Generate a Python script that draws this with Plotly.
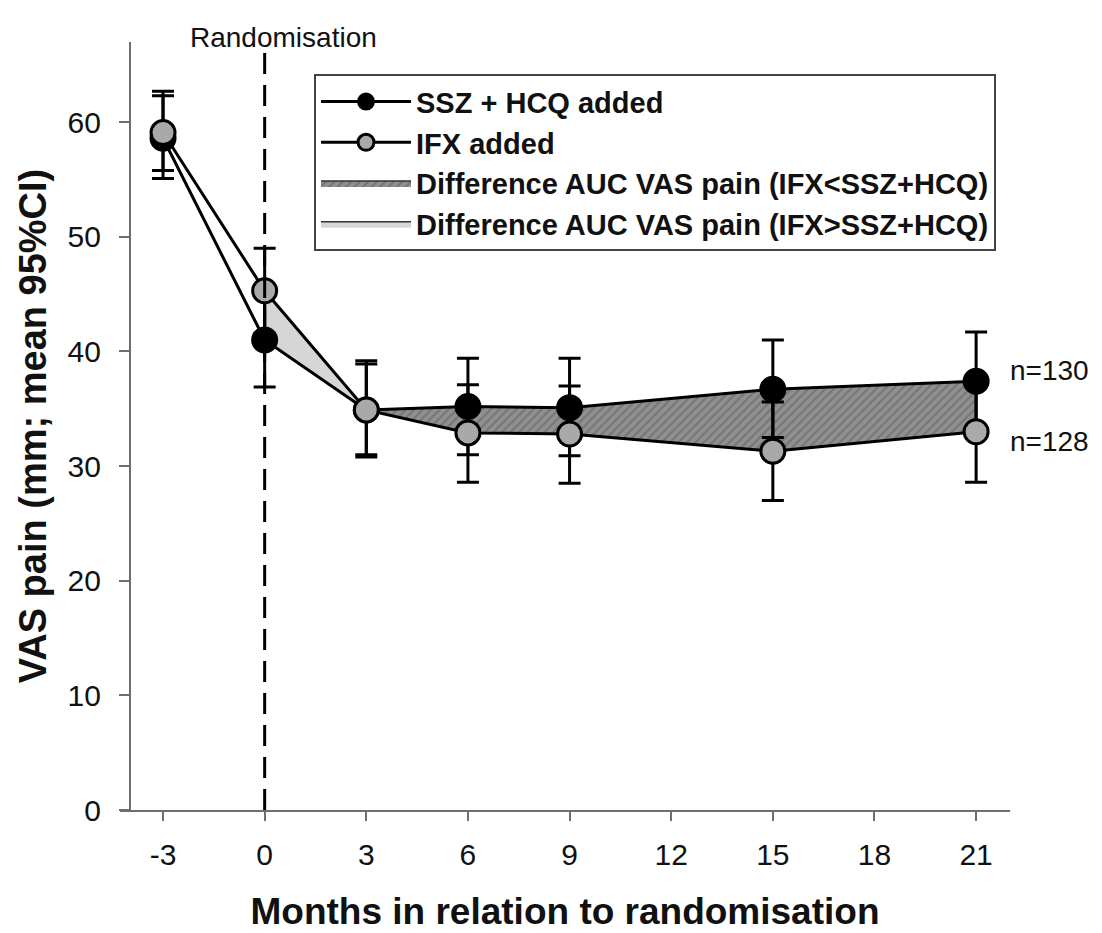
import numpy as np
import plotly.graph_objects as go

# ---- data ----
months = [-3, 0, 3, 6, 9, 15, 21]
ssz_mean = [58.6, 41.0, 34.9, 35.2, 35.1, 36.7, 37.4]
ssz_lo = [55.1, 36.9, 31.0, 31.0, 30.9, 32.5, 33.1]
ssz_hi = [62.3, 44.9, 39.2, 39.4, 39.4, 41.0, 41.7]
ifx_mean = [59.1, 45.3, 34.9, 32.9, 32.8, 31.3, 33.0]
ifx_lo = [55.8, 41.6, 30.8, 28.6, 28.5, 27.0, 28.6]
ifx_hi = [62.7, 49.0, 38.9, 37.1, 37.0, 35.6, 37.4]
x_ticks = [-3, 0, 3, 6, 9, 12, 15, 18, 21]
x_tick_labels = ["-3", "0", "3", "6", "9", "12", "15", "18", "21"]
y_ticks = [0, 10, 20, 30, 40, 50, 60]
n_labels = ["n=130", "n=128"]
randomisation_month = 0

FONT = "Liberation Sans, Arial, sans-serif"

x = np.array(months, dtype=float)
s = np.array(ssz_mean)
f = np.array(ifx_mean)

# segments: from randomisation onwards, IFX above (light) or below (dark)
start = months.index(randomisation_month)
light_idx = [i for i in range(start, len(x)) if f[i] >= s[i]]
light_idx = list(range(start, max(light_idx) + 1)) if light_idx else []
dark_idx = list(range(light_idx[-1] if light_idx else start, len(x)))

def polygon(idx):
    px = list(x[idx]) + list(x[idx][::-1])
    py = list(s[idx]) + list(f[idx][::-1])
    return px, py

fig = go.Figure()

lx, ly = polygon(light_idx)
dx, dy = polygon(dark_idx)

fig.add_trace(go.Scatter(
    x=dx, y=dy, fill="toself", mode="lines",
    line=dict(color="#333333", width=1.5),
    fillcolor="#8c8c8c",
    fillpattern=dict(shape="/", bgcolor="#909090", fgcolor="#5a5a5a", size=6, solidity=0.35),
    name="Difference AUC VAS pain (IFX<SSZ+HCQ)", legendrank=3, hoverinfo="skip"))
fig.add_trace(go.Scatter(
    x=lx, y=ly, fill="toself", mode="lines",
    line=dict(color="#333333", width=1.5),
    fillcolor="#d6d6d6",
    name="Difference AUC VAS pain (IFX>SSZ+HCQ)", legendrank=4, hoverinfo="skip"))

fig.add_trace(go.Scatter(
    x=months, y=ssz_mean, mode="lines+markers", name="SSZ + HCQ added",
    line=dict(color="black", width=3),
    marker=dict(size=25, color="black", line=dict(color="black", width=2)),
    error_y=dict(type="data", symmetric=False,
                 array=[h - m for h, m in zip(ssz_hi, ssz_mean)],
                 arrayminus=[m - l for m, l in zip(ssz_mean, ssz_lo)],
                 color="black", thickness=3, width=11),
    legendrank=1))
fig.add_trace(go.Scatter(
    x=months, y=ifx_mean, mode="lines+markers", name="IFX added",
    line=dict(color="black", width=3),
    marker=dict(size=24, color="#a9a9a9", line=dict(color="black", width=3)),
    error_y=dict(type="data", symmetric=False,
                 array=[h - m for h, m in zip(ifx_hi, ifx_mean)],
                 arrayminus=[m - l for m, l in zip(ifx_mean, ifx_lo)],
                 color="black", thickness=3, width=11),
    legendrank=2))

# randomisation line
fig.add_shape(type="line", x0=randomisation_month, x1=randomisation_month,
              xref="x", yref="paper", y0=0, y1=0.993,
              line=dict(color="black", width=3, dash="21px,11px"))
fig.add_annotation(x=randomisation_month, xref="x", y=1.029, yref="paper",
                   text="Randomisation", showarrow=False, xshift=19,
                   font=dict(family=FONT, size=28, color="#111"))

# n labels
fig.add_annotation(x=months[-1], y=ssz_mean[-1], text=n_labels[0], showarrow=False,
                   xanchor="left", xshift=32, yshift=11,
                   font=dict(family=FONT, size=28, color="#111"))
fig.add_annotation(x=months[-1], y=ifx_mean[-1], text=n_labels[1], showarrow=False,
                   xanchor="left", xshift=32, yshift=-10,
                   font=dict(family=FONT, size=28, color="#111"))

fig.update_layout(
    width=1102, height=933,
    margin=dict(l=120, r=92, t=42, b=123, autoexpand=False),
    paper_bgcolor="white", plot_bgcolor="white",
    font=dict(family=FONT, color="#111"),
    showlegend=True,
    legend=dict(x=0.218, y=0.958, xanchor="left", yanchor="top",
                bgcolor="white", bordercolor="#444", borderwidth=2,
                font=dict(family=FONT, size=29, color="#111", weight="bold"),
                itemwidth=90, traceorder="normal"),
    xaxis=dict(range=[-4.27, 22.0], tickmode="array", tickvals=x_ticks, ticktext=x_tick_labels,
               automargin=False,
               showgrid=False, zeroline=False, showline=True, linecolor="#6e6e6e", linewidth=2,
               ticks="outside", ticklen=9, tickwidth=2, tickcolor="#6e6e6e",
               ticklabelstandoff=8,
               tickfont=dict(family=FONT, size=30, color="#111"),
               title=dict(text="<b>Months in relation to randomisation</b>",
                          font=dict(family=FONT, size=37, color="#111"), standoff=28)),
    yaxis=dict(range=[0, 67], tickmode="array", tickvals=y_ticks,
               anchor="free", position=0.0112, automargin=False,
               showgrid=False, zeroline=False, showline=True, linecolor="#6e6e6e", linewidth=2,
               ticks="outside", ticklen=10, tickwidth=2, tickcolor="#6e6e6e",
               ticklabelstandoff=12,
               tickfont=dict(family=FONT, size=30, color="#111"),
               title=dict(text="<b>VAS pain (mm; mean 95%CI)</b>",
                          font=dict(family=FONT, size=38, color="#111"), standoff=8)),
)

fig.write_html("out.html")
